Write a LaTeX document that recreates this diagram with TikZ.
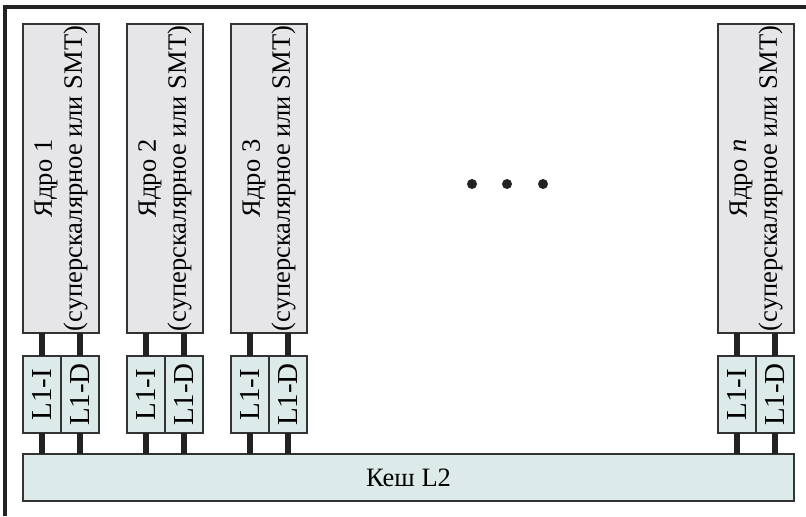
\documentclass[tikz,border=0pt]{standalone}
\usepackage{fontspec}
\setmainfont{Liberation Serif}
\usetikzlibrary{positioning}

\definecolor{corefill}{HTML}{E6E6E8}
\definecolor{cachefill}{HTML}{DCEAEA}
\definecolor{edgegray}{HTML}{333333}
\definecolor{framegray}{HTML}{222222}

\tikzset{
  core/.style={draw=edgegray, line width=0.75pt, fill=corefill,
    minimum width=38pt, minimum height=154.5pt, inner sep=0pt, outer sep=0pt},
  cache/.style={draw=edgegray, line width=0.75pt, fill=cachefill,
    minimum width=19pt, minimum height=38.5pt, inner sep=0pt, outer sep=0pt},
  label/.style={font=\fontsize{13.25}{15}\selectfont, align=center, inner sep=0pt},
  biglabel/.style={label, font=\fontsize{14.5}{16}\selectfont},
  bus/.style={line width=3pt, framegray},
}

\begin{document}
\begin{tikzpicture}[x=0.5pt, y=-0.5pt]
    \useasboundingbox (0,0) rectangle (806,516);

    % MARC DEL XIP
    \draw[line width=2pt, framegray] (5,516) -- (5,7) -- (806,7);

    % CACHE L2
    \node[cache, minimum width=385.5pt, minimum height=23.5pt] (l2) at (408.5,477.5) {};
    \node[label] (l2txt) at (l2) {Кеш L2};

    % NUCLIS AMB LES SEVES CACHES L1
    \foreach \x/\k/\t in {23/1/1, 127/2/2, 231/3/3, 718/n/{\textit{n}}} {
        \node[core] (core\k) at (\x+38,178.5) {};
        \node[label, rotate=90] (coretxt\k) at (core\k) {Ядро \t\\(суперскалярное или SMT)};
        \node[cache] (l1i\k) at (\x+19,394.5) {};
        \node[cache, right=0pt of l1i\k] (l1d\k) {};
        \node[biglabel, rotate=90] (l1itxt\k) at (l1i\k) {L1-I};
        \node[biglabel, rotate=90] (l1dtxt\k) at (l1d\k) {L1-D};
        % busos
        \draw[bus] (l1i\k.north) -- (l1i\k.north |- core\k.south);
        \draw[bus] (l1d\k.north) -- (l1d\k.north |- core\k.south);
        \draw[bus] (l1i\k.south) -- (l1i\k.south |- l2.north);
        \draw[bus] (l1d\k.south) -- (l1d\k.south |- l2.north);
    }

    % PUNTS SUSPENSIUS
    \foreach \x in {472, 507, 543} {
        \fill[framegray] (\x,184) circle (2.5pt);
    }

\end{tikzpicture}
\end{document}
